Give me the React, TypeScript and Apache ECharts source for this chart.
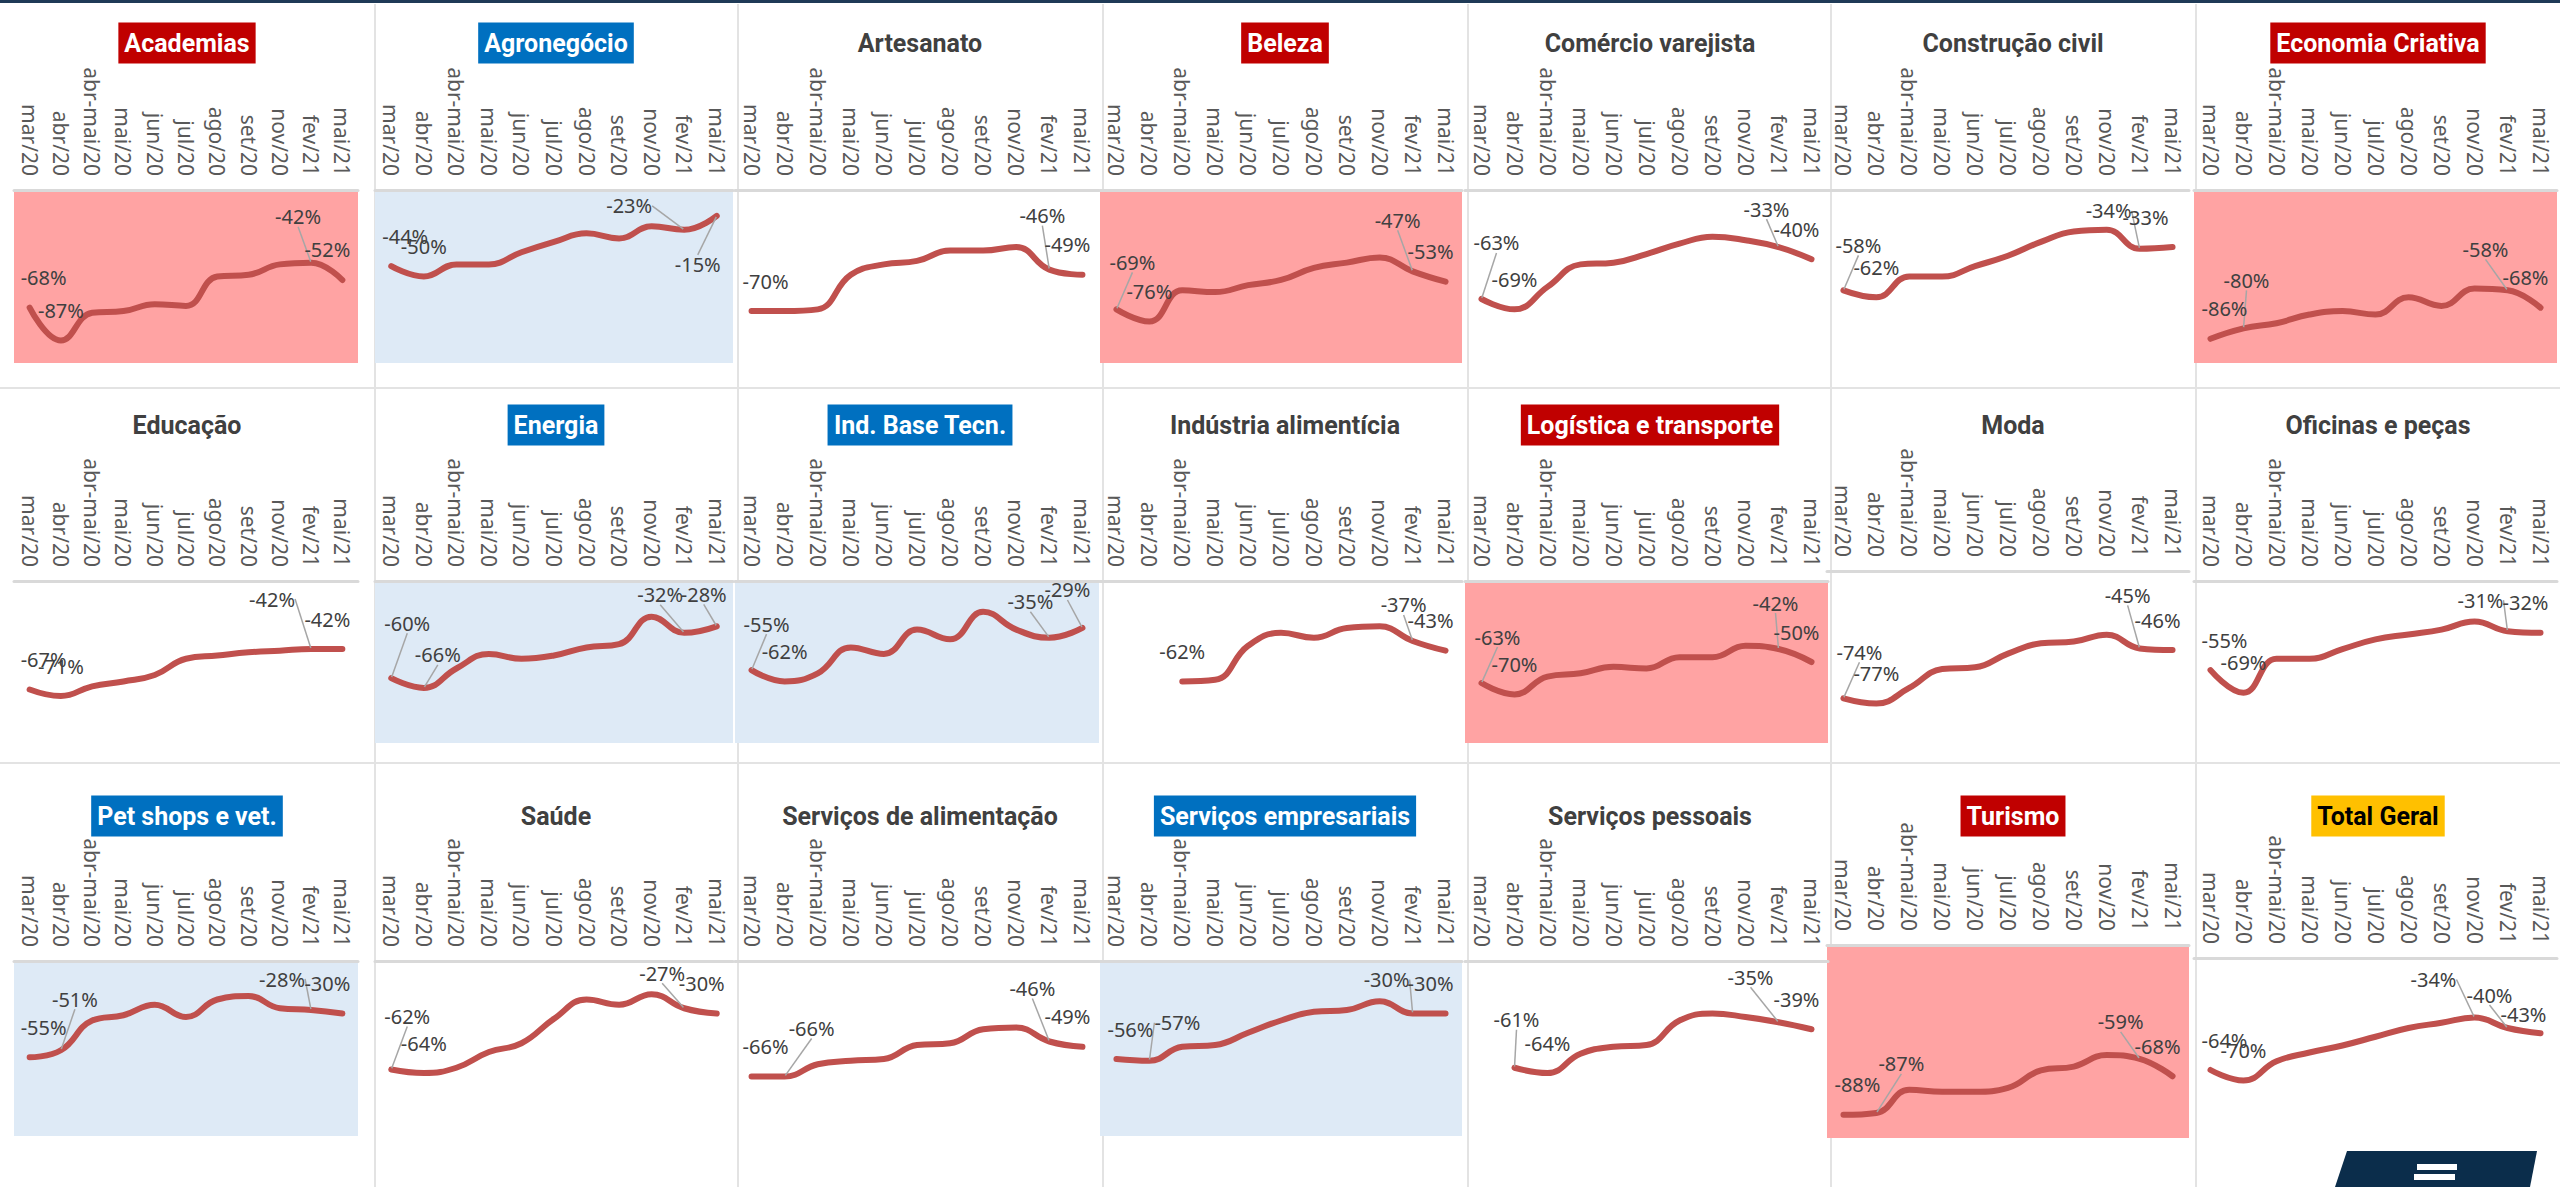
import React, { useEffect, useRef } from 'react';
import * as echarts from 'echarts';

const CATEGORIES = ['mar/20', 'abr/20', 'abr-mai/20', 'mai/20', 'jun/20', 'jul/20', 'ago/20', 'set/20', 'nov/20', 'fev/21', 'mai/21'];

const ACADEMIAS = [-68, -87, -71, -70, -66, -67, -50, -49, -43, -42, -52];
const AGRONEGOCIO = [-44, -50, -43, -43, -36, -30, -25, -28, -21, -23, -15];
const ARTESANATO = [-70, -70, -69, -49, -43, -41, -35, -35, -33, -46, -49];
const BELEZA = [-69, -76, -58, -59, -55, -52, -45, -42, -39, -47, -53];
const COMERCIO = [-63, -69, -56, -43, -42, -37, -31, -27, -29, -33, -40];
const CONSTRUCAO = [-58, -62, -50, -50, -44, -38, -30, -24, -23, -34, -33];
const ECONOMIA = [-86, -80, -77, -72, -70, -72, -62, -67, -57, -58, -68];
const EDUCACAO = [-67, -71, -65, -62, -58, -48, -46, -44, -43, -42, -42];
const ENERGIA = [-60, -66, -54, -45, -48, -46, -41, -39, -22, -32, -28];
const IND_BASE = [-55, -62, -57, -41, -45, -30, -36, -19, -30, -35, -29];
const IND_ALIM = [null, null, -62, -61, -40, -32, -35, -29, -28, -37, -43];
const LOGISTICA = [-63, -70, -59, -57, -53, -54, -47, -47, -40, -42, -50];
const MODA = [-74, -77, -68, -57, -56, -48, -42, -41, -37, -45, -46];
const OFICINAS = [-55, -69, -48, -48, -42, -36, -33, -30, -25, -31, -32];
const PET = [-55, -51, -34, -31, -25, -32, -22, -20, -27, -28, -30];
const SAUDE = [-62, -64, -61, -52, -47, -33, -22, -25, -19, -27, -30];
const SERV_ALIM = [-66, -66, -59, -57, -56, -48, -47, -39, -38, -46, -49];
const SERV_EMP = [-56, -57, -49, -48, -41, -34, -29, -28, -23, -30, -30];
const SERV_PESS = [null, -61, -64, -53, -49, -48, -34, -30, -32, -35, -39];
const TURISMO = [-88, -87, -75, -76, -76, -74, -65, -63, -57, -59, -68];
const TOTAL = [-64, -70, -59, -54, -50, -45, -40, -37, -34, -40, -43];

type Kind = 'red' | 'blue' | 'plain' | 'yellow';
const PANELS: { title: string; kind: Kind; values: (number | null)[]; labeled: number[] }[] = [
  { title: 'Academias', kind: 'red', values: ACADEMIAS, labeled: [0, 1, 9, 10] },
  { title: 'Agronegócio', kind: 'blue', values: AGRONEGOCIO, labeled: [0, 1, 9, 10] },
  { title: 'Artesanato', kind: 'plain', values: ARTESANATO, labeled: [0, 9, 10] },
  { title: 'Beleza', kind: 'red', values: BELEZA, labeled: [0, 1, 9, 10] },
  { title: 'Comércio varejista', kind: 'plain', values: COMERCIO, labeled: [0, 1, 9, 10] },
  { title: 'Construção civil', kind: 'plain', values: CONSTRUCAO, labeled: [0, 1, 9, 10] },
  { title: 'Economia Criativa', kind: 'red', values: ECONOMIA, labeled: [0, 1, 9, 10] },
  { title: 'Educação', kind: 'plain', values: EDUCACAO, labeled: [0, 1, 9, 10] },
  { title: 'Energia', kind: 'blue', values: ENERGIA, labeled: [0, 1, 9, 10] },
  { title: 'Ind. Base Tecn.', kind: 'blue', values: IND_BASE, labeled: [0, 1, 9, 10] },
  { title: 'Indústria alimentícia', kind: 'plain', values: IND_ALIM, labeled: [2, 9, 10] },
  { title: 'Logística e transporte', kind: 'red', values: LOGISTICA, labeled: [0, 1, 9, 10] },
  { title: 'Moda', kind: 'plain', values: MODA, labeled: [0, 1, 9, 10] },
  { title: 'Oficinas e peças', kind: 'plain', values: OFICINAS, labeled: [0, 1, 9, 10] },
  { title: 'Pet shops e vet.', kind: 'blue', values: PET, labeled: [0, 1, 9, 10] },
  { title: 'Saúde', kind: 'plain', values: SAUDE, labeled: [0, 1, 9, 10] },
  { title: 'Serviços de alimentação', kind: 'plain', values: SERV_ALIM, labeled: [0, 1, 9, 10] },
  { title: 'Serviços empresariais', kind: 'blue', values: SERV_EMP, labeled: [0, 1, 9, 10] },
  { title: 'Serviços pessoais', kind: 'plain', values: SERV_PESS, labeled: [1, 2, 9, 10] },
  { title: 'Turismo', kind: 'red', values: TURISMO, labeled: [0, 1, 9, 10] },
  { title: 'Total Geral', kind: 'yellow', values: TOTAL, labeled: [0, 1, 8, 9, 10] },
];

// label nudges (px) relative to the default "above" position: [dx, dy, leaderLine]
const NUDGES: Record<string, Record<number, [number, number, boolean]>> = {
  'Academias': { 9: [-13, -16, true] },
  'Agronegócio': { 9: [-55, 6, true], 10: [-4, 79, true] },
  'Artesanato': { 9: [-7, -24, true] },
  'Beleza': { 0: [2, -17, true], 9: [-15, -21, true] },
  'Comércio varejista': { 0: [1, -26, true], 9: [-12, -8, true] },
  'Construção civil': { 0: [1, -15, true], 9: [-31, -8, true], 10: [-12, 0, false] },
  'Economia Criativa': { 1: [3, -18, true], 9: [-22, -11, true] },
  'Educação': { 9: [-39, -20, true] },
  'Energia': { 0: [2, -25, true], 1: [14, -3, true], 9: [-24, -8, true], 10: [2, -2, true] },
  'Ind. Base Tecn.': { 0: [1, -16, true], 9: [-19, -6, true], 10: [0, -8, true] },
  'Indústria alimentícia': { 9: [-9, -6, true] },
  'Logística e transporte': { 0: [2, -16, true], 9: [-3, -16, true] },
  'Moda': { 0: [2, -16, true], 9: [-12, -23, true] },
  'Oficinas e peças': { 9: [-27, -1, true] },
  'Pet shops e vet.': { 1: [14, -21, true], 9: [-29, -1, true] },
  'Saúde': { 0: [2, -23, true], 9: [-22, -5, true] },
  'Serviços de alimentação': { 1: [27, -18, true], 9: [-17, -23, true] },
  'Serviços empresariais': { 1: [28, -8, true], 9: [-26, -4, true] },
  'Serviços pessoais': { 1: [2, -18, true], 9: [-28, -15, true] },
  'Turismo': { 1: [25, -19, true], 9: [-19, -7, true] },
  'Total Geral': { 8: [-41, -8, true], 9: [-18, -3, true], 10: [-2, 11, false] },
};

const COL_LEFT = [14, 375, 735, 1100, 1465, 1827, 2194];
const COL_WIDTH = [344, 358, 364, 362, 363, 362, 363];
const COL_CENTER = [187, 556, 920, 1285, 1650, 2013, 2378];
const ROW_TOP = [190, 581, 961];
const ROW_BOTTOM = [363, 743, 1136];
const ROW_TITLE_Y = [43, 425, 816];
// a few panels whose plot area starts higher / ends lower than their row
const PANEL_TOP: Record<string, number> = { 'Moda': 571, 'Turismo': 945, 'Total Geral': 958 };
const PANEL_BOTTOM: Record<string, number> = { 'Turismo': 1138, 'Total Geral': 1133 };
const DIVIDERS_X = [375, 738, 1103, 1468, 1831, 2196];
const DIVIDERS_Y = [388, 763];

const BG: Record<Kind, string> = { red: '#FFA3A3', blue: '#DEEAF6', plain: 'transparent', yellow: 'transparent' };
const TITLE_BG: Record<Kind, string> = { red: '#C00000', blue: '#0070C0', plain: 'transparent', yellow: '#FFC000' };
const TITLE_FG: Record<Kind, string> = { red: '#FFFFFF', blue: '#FFFFFF', plain: '#404040', yellow: '#000000' };
const TITLE_FONT = "'Roboto', 'Noto Sans', sans-serif";
const TEXT_FONT = "'Noto Sans', 'DejaVu Sans', sans-serif";
const LINE_COLOR = '#C0504D';

export default function App() {
  const ref = useRef<HTMLDivElement>(null);
  useEffect(() => {
    if (!ref.current) return;
    const chart = echarts.init(ref.current, undefined, { renderer: 'svg' });

    const grids: any[] = [];
    const xAxes: any[] = [];
    const yAxes: any[] = [];
    const series: any[] = [];
    const graphics: any[] = [];

    graphics.push({ type: 'rect', z: -10, shape: { x: 0, y: 0, width: 2560, height: 3 }, style: { fill: '#1F3A57' } });
    DIVIDERS_X.forEach((x) => {
      graphics.push({ type: 'line', z: -10, shape: { x1: x, y1: 4, x2: x, y2: 1187 }, style: { stroke: '#E3E3E3', lineWidth: 2 } });
    });
    DIVIDERS_Y.forEach((y) => {
      graphics.push({ type: 'line', z: -10, shape: { x1: 0, y1: y, x2: 2560, y2: y }, style: { stroke: '#E3E3E3', lineWidth: 2 } });
    });

    PANELS.forEach((p, k) => {
      const row = Math.floor(k / 7);
      const col = k % 7;
      const top = PANEL_TOP[p.title] ?? ROW_TOP[row];
      const bottom = PANEL_BOTTOM[p.title] ?? ROW_BOTTOM[row];
      grids.push({
        left: COL_LEFT[col], top, width: COL_WIDTH[col], height: bottom - top,
        show: true, backgroundColor: BG[p.kind], borderWidth: 0,
      });
      xAxes.push({
        gridIndex: k, type: 'category', position: 'top', data: CATEGORIES, boundaryGap: true,
        axisLine: { show: true, onZero: false, lineStyle: { color: '#D9D9D9', width: 3 } },
        axisTick: { show: false },
        splitLine: { show: false },
        axisLabel: { interval: 0, rotate: 90, margin: 14, color: '#595959', fontSize: 21, fontFamily: TEXT_FONT },
      });
      yAxes.push({ gridIndex: k, type: 'value', min: -100, max: 0, show: false, splitLine: { show: false } });

      const nudges = NUDGES[p.title] || {};
      const data = p.values.map((v, i) => {
        if (v === null) return null;
        if (!p.labeled.includes(i)) return v;
        const n = nudges[i];
        return { value: v, label: { show: true }, labelLine: { show: !!(n && n[2]) } };
      });
      series.push({
        type: 'line', xAxisIndex: k, yAxisIndex: k, smooth: 0.45,
        symbol: 'circle', symbolSize: 2, showSymbol: true,
        lineStyle: { color: LINE_COLOR, width: 6, cap: 'round', join: 'round' },
        itemStyle: { color: LINE_COLOR },
        data,
        label: {
          show: false, position: 'top', distance: 19,
          formatter: (q: any) => q.value + '%',
          color: '#404040', fontSize: 20, fontFamily: TEXT_FONT,
        },
        labelLine: { show: false, lineStyle: { color: '#A6A6A6', width: 1.5 } },
        labelLayout: (params: any) => {
          const i = params.dataIndex;
          let dx = 0;
          if (i === 0) dx = 14;
          if (i === CATEGORIES.length - 1) dx = -15;
          const n = nudges[i];
          let dy = 0;
          if (n) { dx += n[0]; dy += n[1]; }
          return { dx, dy };
        },
      });

      graphics.push({
        type: 'text', z: 10, x: COL_CENTER[col], y: ROW_TITLE_Y[row],
        style: {
          text: p.title, fill: TITLE_FG[p.kind], fontSize: 25, fontWeight: 'bold', fontFamily: TITLE_FONT,
          align: 'center', verticalAlign: 'middle', textAlign: 'center', textVerticalAlign: 'middle',
          backgroundColor: TITLE_BG[p.kind], padding: [8, 6],
        },
      });
    });

    // logo
    graphics.push({ type: 'polygon', z: 5, shape: { points: [[2347, 1151], [2537, 1151], [2530, 1187], [2335, 1187]] }, style: { fill: '#0B2D4B' } });
    graphics.push({ type: 'rect', z: 6, shape: { x: 2417, y: 1164, width: 40, height: 6 }, style: { fill: '#FFFFFF' } });
    graphics.push({ type: 'rect', z: 6, shape: { x: 2414, y: 1174, width: 41, height: 6 }, style: { fill: '#FFFFFF' } });

    chart.setOption({
      animation: false,
      backgroundColor: '#FFFFFF',
      grid: grids,
      xAxis: xAxes,
      yAxis: yAxes,
      series,
      graphic: { elements: graphics },
    });
    return () => chart.dispose();
  }, []);
  return <div ref={ref} style={{ position: 'fixed', left: 0, top: 0, width: 2560, height: 1187, background: '#fff' }} />;
}
